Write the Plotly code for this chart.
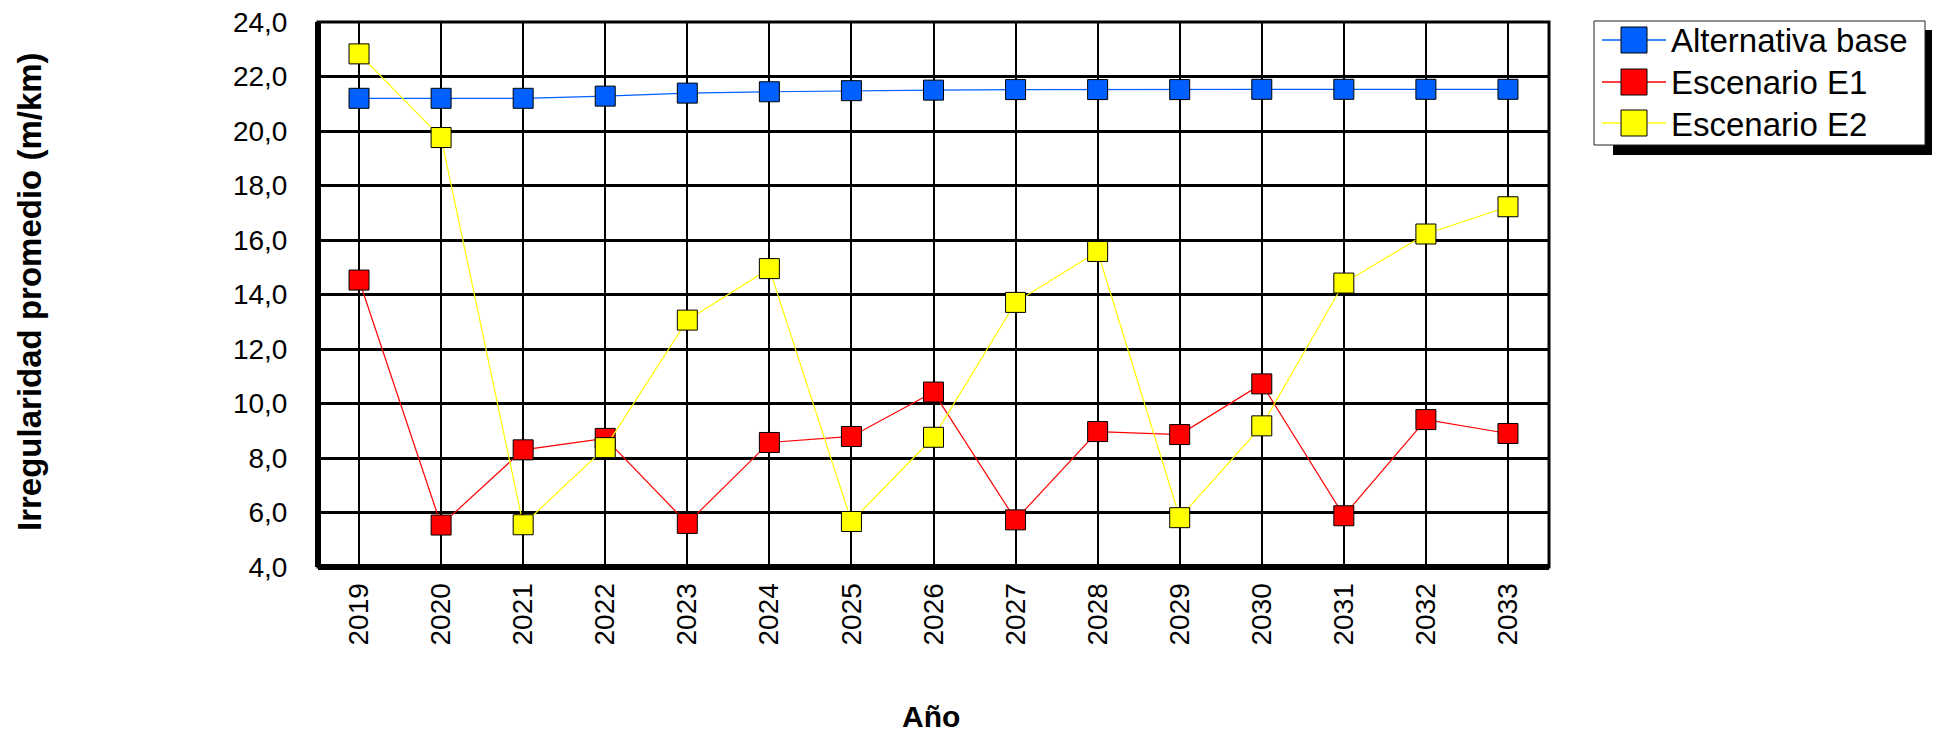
import plotly.graph_objects as go

years = [str(y) for y in range(2019, 2034)]
alternativa_base = [21.2, 21.2, 21.2, 21.28, 21.39, 21.44, 21.48, 21.5, 21.52, 21.52, 21.52, 21.53, 21.53, 21.53, 21.53]
escenario_e1 = [14.53, 5.54, 8.30, 8.72, 5.6, 8.57, 8.79, 10.42, 5.73, 8.97, 8.86, 10.72, 5.88, 9.41, 8.90]
escenario_e2 = [22.83, 19.76, 5.55, 8.38, 13.06, 14.95, 5.67, 8.76, 13.71, 15.58, 5.81, 9.18, 14.42, 16.22, 17.22]
y_ticks = [4, 6, 8, 10, 12, 14, 16, 18, 20, 22, 24]
series_names = ["Alternativa base", "Escenario E1", "Escenario E2"]
series_colors = ["#0060ff", "#ff0000", "#ffff00"]
series_values = [alternativa_base, escenario_e1, escenario_e2]

FONT = "Arial, Liberation Sans, sans-serif"
# the page body adds an 8px margin; size the figure so it fills the window exactly
OFF = 8
W, H = 1940 - OFF, 735 - OFF
# plot area edges in window pixels
PL, PR, PT, PB = 318, 1549, 22, 567
L, R, T, B = PL - OFF, W - (PR - OFF), PT - OFF, H - (PB - OFF)
PW, PH = W - L - R, H - T - B


def px_x(px):
    return (px - OFF - L) / PW


def px_y(py):
    return (H - B - (py - OFF)) / PH


fig = go.Figure()
for name, vals, col in zip(series_names, series_values, series_colors):
    fig.add_trace(go.Scatter(
        x=years, y=vals, name=name, mode="lines+markers",
        line=dict(color=col, width=1.2),
        marker=dict(symbol="square", size=20, color=col, line=dict(color="black", width=1)),
    ))

shapes = [
    dict(type="rect", xref="paper", yref="paper", x0=0, x1=1, y0=0, y1=1,
         line=dict(color="black", width=3), layer="above"),
    dict(type="line", xref="paper", yref="paper", x0=0, x1=0, y0=0, y1=1,
         line=dict(color="black", width=6), layer="above"),
    dict(type="line", xref="paper", yref="paper", x0=0, x1=1, y0=0, y1=0,
         line=dict(color="black", width=6), layer="above"),
    # legend shadow
    dict(type="rect", xref="paper", yref="paper",
         x0=px_x(1613), x1=px_x(1942), y0=px_y(155), y1=px_y(30),
         fillcolor="black", line=dict(width=0), layer="above"),
    # legend box
    dict(type="rect", xref="paper", yref="paper",
         x0=px_x(1594), x1=px_x(1925), y0=px_y(145), y1=px_y(21),
         fillcolor="white", line=dict(color="#222222", width=1), layer="above"),
]
annotations = []
row_y = [40, 82, 123]
for name, col, ry in zip(series_names, series_colors, row_y):
    shapes.append(dict(type="line", xref="paper", yref="paper",
                       x0=px_x(1602), x1=px_x(1666), y0=px_y(ry), y1=px_y(ry),
                       line=dict(color=col, width=1.5), layer="above"))
    shapes.append(dict(type="rect", xref="paper", yref="paper",
                       x0=px_x(1621), x1=px_x(1647), y0=px_y(ry + 13), y1=px_y(ry - 13),
                       fillcolor=col, line=dict(color="black", width=1), layer="above"))
    annotations.append(dict(text=name, xref="paper", yref="paper",
                            x=px_x(1669), y=px_y(ry + 1), xanchor="left", yanchor="middle",
                            showarrow=False, font=dict(size=33, family=FONT, color="black")))

annotations += [
    dict(text="<b>Irregularidad promedio (m/km)</b>", xref="paper", yref="paper",
         x=px_x(29), y=px_y(292), textangle=-90, showarrow=False,
         xanchor="center", yanchor="middle", font=dict(size=33, family=FONT)),
    dict(text="<b>Año</b>", xref="paper", yref="paper",
         x=px_x(931), y=px_y(716), showarrow=False,
         xanchor="center", yanchor="middle", font=dict(size=30, family=FONT)),
]

fig.update_layout(
    width=W, height=H,
    margin=dict(l=L, r=R, t=T, b=B, autoexpand=False),
    plot_bgcolor="white", paper_bgcolor="white",
    font=dict(family=FONT, color="black", size=28),
    separators=",.",
    showlegend=False,
    xaxis=dict(
        type="category", range=[-0.5, 14.5], tickangle=-90,
        showgrid=True, gridcolor="black", gridwidth=1.5,
        ticks="outside", ticklen=4, tickcolor="rgba(0,0,0,0)",
        showline=False, zeroline=False, automargin=False,
        ticklabeloverflow="allow",
        tickfont=dict(size=28),
    ),
    yaxis=dict(
        range=[4, 24], tickvals=y_ticks, tickformat=".1f",
        showgrid=True, gridcolor="black", gridwidth=3,
        ticks="outside", ticklen=24, tickcolor="rgba(0,0,0,0)",
        showline=False, zeroline=False, automargin=False,
        ticklabeloverflow="allow",
        tickfont=dict(size=28),
    ),
    shapes=shapes,
    annotations=annotations,
)

fig.write_html("out.html")
